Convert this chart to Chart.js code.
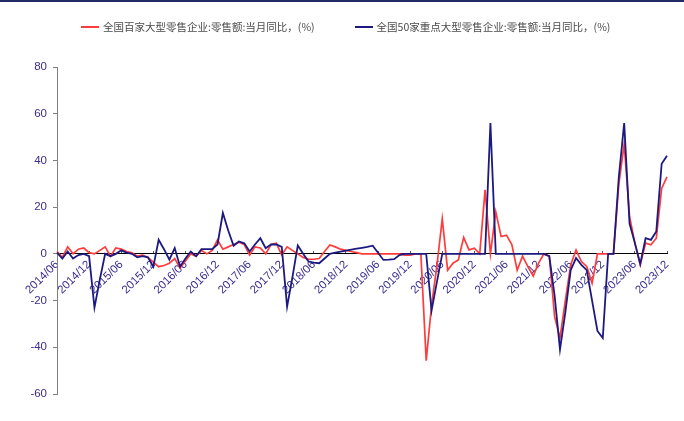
<!DOCTYPE html>
<html lang="zh-CN">
<head>
<meta charset="utf-8">
<title>零售额当月同比</title>
<script src="https://cdn.jsdelivr.net/npm/chart.js@4.4.1/dist/chart.umd.min.js"></script>
<style>
  html, body { margin: 0; padding: 0; background: #fff; }
  #wrap { position: relative; width: 684px; height: 421px; }
  #topline { position: absolute; left: 0; top: 0; width: 684px; height: 2px; background: #1f2a66; }
  #legend { position: absolute; left: 81px; top: 20px; display: flex; gap: 40px;
            font: 10.5px "Noto Sans CJK SC", sans-serif; color: #4a4a4a; line-height: 14px; }
  .item { display: flex; align-items: center; white-space: nowrap; }
  .swatch { display: inline-block; width: 18px; height: 2px; margin-right: 4px; }
</style>
</head>
<body>
<div id="wrap">
  <canvas id="chart"></canvas>
  <div id="topline"></div>
  <div id="legend">
    <div class="item"><span class="swatch" style="background:#ff3b3b"></span>全国百家大型零售企业:零售额:当月同比，(%)</div>
    <div class="item"><span class="swatch" style="background:#1c1a80"></span>全国50家重点大型零售企业:零售额:当月同比，(%)</div>
  </div>
</div>
<script>
// 月度数据，2014/06 - 2023/12
const startYear = 2014;
const startMonth = 6;

// 全国百家大型零售企业:零售额:当月同比 (%)
const top100 = [
  1, -1.5, 3, 0, 2, 2.5, 0.5, 0, 1.5, 3,
  -1, 2.5, 2, 1, 0.5, -1, -0.5, -1.5, -3.5, -5.5,
  -5, -4, -2, -6, -3, 0, -1, 1.5, 0, 1.5,
  6, 2, 3, 4, 5, 4, -0.5, 3, 2.5, 0,
  4, 4.5, -0.5, 3, 1.5, 0, -1.5, -2.3, -2.3, -2,
  1, 3.8, 3, 2, 1.5, 1, 0.5, 0, 0, 0,
  0, 0, 0, 0, 0, -0.5, -0.5, 0, 0, -45.7,
  -22, -5, 15, -7, -4, -2.6, 7, 1.7, 2.4, 0,
  27.4, 0, 18, 7.4, 8, 4, -7, -1, -5.5, -9.5,
  -4, 0, -1, -27, -36, -20, -4.7, 1.7, -3.3, -5.4,
  -12.6, 0, 0, 0, 0, 30, 47, 16, 4.6, -4.7,
  4.6, 3.9, 6.7, 28, 33
];

// 全国50家重点大型零售企业:零售额:当月同比 (%)
const top50 = [
  0.5, -2, 1, -2, -0.5, 0, -1, -23, -11, 0,
  -1, 0, 1.5, 0.5, 0, -1.5, -1, -1.5, -5.5, 6,
  2, -2.5, 2.5, -5.5, -2, 1, -1, 2, 2, 2,
  4, 17.5, 10, 3.5, 5.3, 4.5, 1, 4, 6.7, 2.4,
  4, 4, 3, -22.7, -10, 3.6, 0, -3.3, -3.8, -4,
  -2, 0, 0.5, 1, 1.4, 1.8, 2.2, 2.6, 3, 3.5,
  0.5, -2.6, -2.5, -2.3, -0.5, 0, 0, 0, 0, 0,
  -24.3, -12, 0, 0, 0, 0, 0, 0, 0, 0,
  0, 56, 0, 0, 0, 0, 0, 0, 0, 0,
  0, 0, -1, -18, -41, -25, -7, -1.8, -4.7, -7,
  -20, -33, -36, 0, 0, 33, 56, 13, 4.6, -4.3,
  6.7, 6, 9.6, 38.6, 42
];

const yTicks = [-60, -40, -20, 0, 20, 40, 60, 80];

// 类别：逐月标签
const categories = [];
for (let k = 0; k < top100.length; k++) {
  const m = startMonth - 1 + k;
  const y = startYear + Math.floor(m / 12);
  const mm = (m % 12) + 1;
  categories.push(y + '/' + String(mm).padStart(2, '0'));
}

const labelColor = '#3a2d8f';
const tickFont = { family: '"Liberation Sans", Arial, sans-serif', size: 11.5 };

new Chart(document.getElementById('chart'), {
  type: 'line',
  data: {
    labels: categories,
    datasets: [
      {
        label: '全国百家大型零售企业:零售额:当月同比，(%)',
        data: top100,
        borderColor: '#ff3b3b',
        borderWidth: 1.7,
        pointRadius: 0,
        tension: 0,
        order: 1
      },
      {
        label: '全国50家重点大型零售企业:零售额:当月同比，(%)',
        data: top50,
        borderColor: '#1c1a80',
        borderWidth: 1.8,
        pointRadius: 0,
        tension: 0,
        order: 0
      }
    ]
  },
  options: {
    responsive: true,
    maintainAspectRatio: false,
    animation: false,
    layout: { padding: { top: 67, right: 17, bottom: 27, left: 0 } },
    plugins: {
      legend: { display: false },
      tooltip: { enabled: false }
    },
    scales: {
      x: {
        type: 'category',
        position: { y: 0 },
        offset: false,
        afterFit: s => { s.height = 0; },
        border: { display: true, color: '#000', width: 1 },
        grid: {
          drawOnChartArea: false,
          drawTicks: true,
          tickLength: -3,
          color: ctx => (ctx.index % 6 === 0 ? '#555' : 'rgba(0,0,0,0)')
        },
        ticks: {
          autoSkip: false,
          minRotation: 45,
          maxRotation: 45,
          padding: 7,
          color: labelColor,
          font: tickFont,
          callback: (v, i) => (i % 6 === 0 ? categories[i] : '')
        }
      },
      y: {
        min: yTicks[0],
        max: yTicks[yTicks.length - 1],
        afterFit: s => { s.width = 57; },
        afterBuildTicks: s => { s.ticks = yTicks.map(v => ({ value: v })); },
        border: { display: true, color: '#808080', width: 1 },
        grid: { drawOnChartArea: false, drawTicks: true, tickLength: 4, color: '#808080' },
        ticks: { padding: 6, color: labelColor, font: tickFont }
      }
    }
  }
});
</script>
</body>
</html>
